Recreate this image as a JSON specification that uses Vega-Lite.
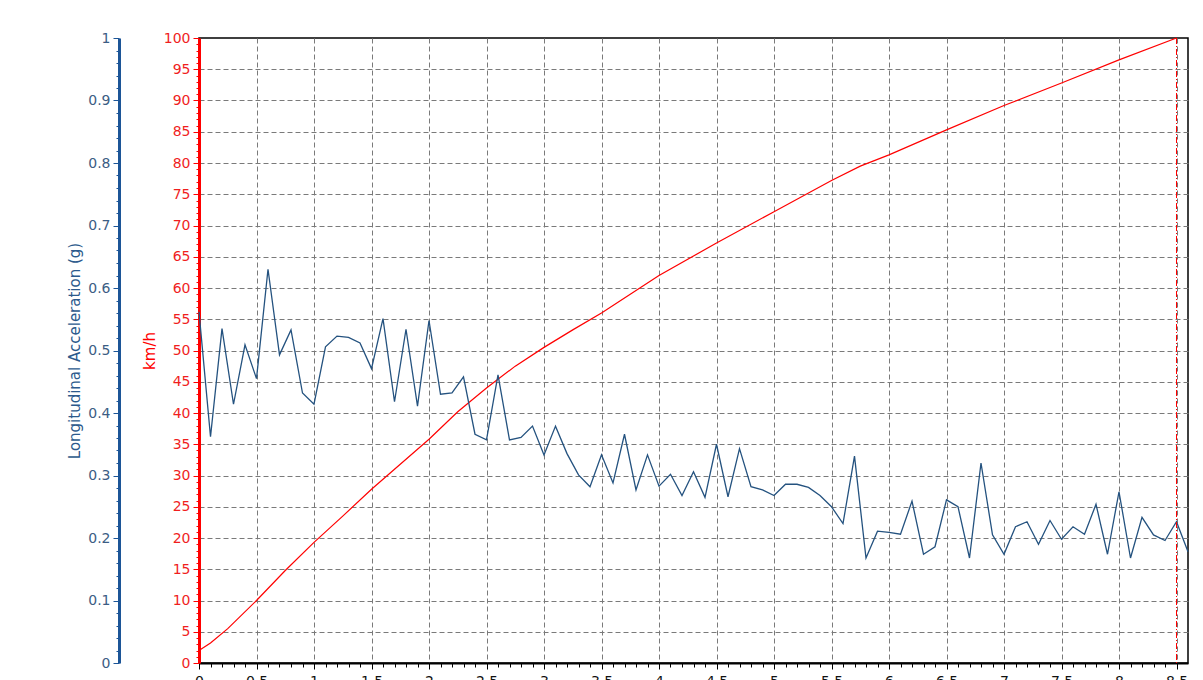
{
  "$schema": "https://vega.github.io/schema/vega-lite/v6.json",
  "width": 989,
  "height": 625,
  "autosize": {"type": "none"},
  "padding": {"left": 199, "top": 38, "right": 15, "bottom": 17},
  "background": "white",
  "config": {
    "font": "DejaVu Sans",
    "view": {"stroke": "#000000", "strokeWidth": 1.5}
  },
  "datasets": {
    "accel": [
      {"t": 0.0, "a": 0.562}, {"t": 0.1, "a": 0.362}, {"t": 0.2, "a": 0.535}, {"t": 0.3, "a": 0.414}, {"t": 0.4, "a": 0.509},
      {"t": 0.5, "a": 0.455}, {"t": 0.6, "a": 0.63}, {"t": 0.7, "a": 0.493}, {"t": 0.8, "a": 0.533}, {"t": 0.9, "a": 0.432},
      {"t": 1.0, "a": 0.414}, {"t": 1.1, "a": 0.506}, {"t": 1.2, "a": 0.523}, {"t": 1.3, "a": 0.521}, {"t": 1.4, "a": 0.512},
      {"t": 1.5, "a": 0.471}, {"t": 1.6, "a": 0.551}, {"t": 1.7, "a": 0.418}, {"t": 1.8, "a": 0.534}, {"t": 1.9, "a": 0.411},
      {"t": 2.0, "a": 0.548}, {"t": 2.1, "a": 0.43}, {"t": 2.2, "a": 0.432}, {"t": 2.3, "a": 0.458}, {"t": 2.4, "a": 0.366},
      {"t": 2.5, "a": 0.357}, {"t": 2.6, "a": 0.461}, {"t": 2.7, "a": 0.357}, {"t": 2.8, "a": 0.361}, {"t": 2.9, "a": 0.379},
      {"t": 3.0, "a": 0.333}, {"t": 3.1, "a": 0.379}, {"t": 3.2, "a": 0.335}, {"t": 3.3, "a": 0.301}, {"t": 3.4, "a": 0.282},
      {"t": 3.5, "a": 0.333}, {"t": 3.6, "a": 0.288}, {"t": 3.7, "a": 0.366}, {"t": 3.8, "a": 0.277}, {"t": 3.9, "a": 0.333},
      {"t": 4.0, "a": 0.283}, {"t": 4.1, "a": 0.302}, {"t": 4.2, "a": 0.268}, {"t": 4.3, "a": 0.306}, {"t": 4.4, "a": 0.265},
      {"t": 4.5, "a": 0.35}, {"t": 4.6, "a": 0.266}, {"t": 4.7, "a": 0.343}, {"t": 4.8, "a": 0.282}, {"t": 4.9, "a": 0.277},
      {"t": 5.0, "a": 0.268}, {"t": 5.1, "a": 0.286}, {"t": 5.2, "a": 0.286}, {"t": 5.3, "a": 0.281}, {"t": 5.4, "a": 0.268},
      {"t": 5.5, "a": 0.25}, {"t": 5.6, "a": 0.223}, {"t": 5.7, "a": 0.331}, {"t": 5.8, "a": 0.168}, {"t": 5.9, "a": 0.211},
      {"t": 6.0, "a": 0.209}, {"t": 6.1, "a": 0.206}, {"t": 6.2, "a": 0.259}, {"t": 6.3, "a": 0.174}, {"t": 6.4, "a": 0.186},
      {"t": 6.5, "a": 0.261}, {"t": 6.6, "a": 0.25}, {"t": 6.7, "a": 0.168}, {"t": 6.8, "a": 0.32}, {"t": 6.9, "a": 0.205},
      {"t": 7.0, "a": 0.174}, {"t": 7.1, "a": 0.218}, {"t": 7.2, "a": 0.226}, {"t": 7.3, "a": 0.19}, {"t": 7.4, "a": 0.228},
      {"t": 7.5, "a": 0.198}, {"t": 7.6, "a": 0.218}, {"t": 7.7, "a": 0.206}, {"t": 7.8, "a": 0.254}, {"t": 7.9, "a": 0.174},
      {"t": 8.0, "a": 0.274}, {"t": 8.1, "a": 0.168}, {"t": 8.2, "a": 0.233}, {"t": 8.3, "a": 0.205}, {"t": 8.4, "a": 0.196},
      {"t": 8.5, "a": 0.226}, {"t": 8.6, "a": 0.178}
    ],
    "speed": [
      {"t": 0.0, "v": 2.0}, {"t": 0.1, "v": 3.2}, {"t": 0.25, "v": 5.5}, {"t": 0.5, "v": 10.0}, {"t": 0.75, "v": 14.8},
      {"t": 1.0, "v": 19.3}, {"t": 1.25, "v": 23.5}, {"t": 1.5, "v": 27.8}, {"t": 1.75, "v": 31.8}, {"t": 2.0, "v": 35.8},
      {"t": 2.25, "v": 40.2}, {"t": 2.5, "v": 44.0}, {"t": 2.75, "v": 47.5}, {"t": 3.0, "v": 50.5}, {"t": 3.25, "v": 53.3},
      {"t": 3.5, "v": 56.0}, {"t": 3.75, "v": 59.0}, {"t": 4.0, "v": 62.0}, {"t": 4.5, "v": 67.2}, {"t": 5.0, "v": 72.2},
      {"t": 5.5, "v": 77.2}, {"t": 5.75, "v": 79.5}, {"t": 6.0, "v": 81.3}, {"t": 6.5, "v": 85.3}, {"t": 7.0, "v": 89.2},
      {"t": 7.5, "v": 92.8}, {"t": 8.0, "v": 96.5}, {"t": 8.5, "v": 100.0}
    ],
    "marker": [{"t": 8.5}]
  },
  "encoding": {
    "x": {
      "field": "t",
      "type": "quantitative",
      "scale": {"domain": [0, 8.6], "nice": false, "zero": false},
      "axis": {
        "title": null,
        "values": [0,0.1,0.2,0.3,0.4,0.5,0.6,0.7,0.8,0.9,1,1.1,1.2,1.3,1.4,1.5,1.6,1.7,1.8,1.9,2,2.1,2.2,2.3,2.4,2.5,2.6,2.7,2.8,2.9,3,3.1,3.2,3.3,3.4,3.5,3.6,3.7,3.8,3.9,4,4.1,4.2,4.3,4.4,4.5,4.6,4.7,4.8,4.9,5,5.1,5.2,5.3,5.4,5.5,5.6,5.7,5.8,5.9,6,6.1,6.2,6.3,6.4,6.5,6.6,6.7,6.8,6.9,7,7.1,7.2,7.3,7.4,7.5,7.6,7.7,7.8,7.9,8,8.1,8.2,8.3,8.4,8.5],
        "labelExpr": "abs(datum.value*2 - round(datum.value*2)) < 0.001 ? format(datum.value, '~g') : ''",
        "labelOverlap": false,
        "labelFlush": false,
        "labelFont": "DejaVu Sans",
        "labelFontSize": 14,
        "labelColor": "#111111",
        "labelPadding": 5,
        "domainColor": "#000000",
        "domainWidth": 2,
        "tickColor": "#000000",
        "tickSize": {"condition": {"test": "abs(datum.value*2 - round(datum.value*2)) < 0.001", "value": 6}, "value": 4},
        "grid": true,
        "gridColor": "#7a7a7a",
        "gridDash": [5, 3],
        "gridWidth": 1,
        "gridOpacity": {"condition": {"test": "abs(datum.value*2 - round(datum.value*2)) < 0.001 && datum.value > 0", "value": 1}, "value": 0}
      }
    }
  },
  "layer": [
    {
      "data": {"name": "speed"},
      "mark": {"type": "line", "color": "#ff0000", "strokeWidth": 1.2},
      "encoding": {
        "y": {
          "field": "v",
          "type": "quantitative",
          "scale": {"domain": [0, 100], "nice": false, "zero": false},
          "axis": {
            "orient": "left",
            "offset": 0,
            "title": "km/h",
            "titleColor": "#ff0000",
            "titleFont": "DejaVu Sans",
            "titleFontSize": 15,
            "titleFontWeight": "normal",
            "titlePadding": 6,
            "values": [0,1,2,3,4,5,6,7,8,9,10,11,12,13,14,15,16,17,18,19,20,21,22,23,24,25,26,27,28,29,30,31,32,33,34,35,36,37,38,39,40,41,42,43,44,45,46,47,48,49,50,51,52,53,54,55,56,57,58,59,60,61,62,63,64,65,66,67,68,69,70,71,72,73,74,75,76,77,78,79,80,81,82,83,84,85,86,87,88,89,90,91,92,93,94,95,96,97,98,99,100],
            "labelExpr": "datum.value % 5 == 0 ? format(datum.value, 'd') : ''",
            "labelOverlap": false,
            "labelFont": "DejaVu Sans",
            "labelFontSize": 14,
            "labelColor": "#f01e1e",
            "labelPadding": 3,
            "domainColor": "#ff0000",
            "domainWidth": 3,
            "tickColor": "#ff0000",
            "tickSize": {"condition": {"test": "datum.value % 5 == 0", "value": 6}, "value": 3},
            "grid": true,
            "gridColor": "#7a7a7a",
            "gridDash": [5, 3],
            "gridWidth": 1,
            "gridOpacity": {"condition": {"test": "datum.value % 5 == 0 && datum.value > 0 && datum.value < 100", "value": 1}, "value": 0}
          }
        }
      }
    },
    {
      "data": {"name": "accel"},
      "mark": {"type": "line", "color": "#24527f", "strokeWidth": 1.3},
      "encoding": {
        "y": {
          "field": "a",
          "type": "quantitative",
          "scale": {"domain": [0, 1], "nice": false, "zero": false},
          "axis": {
            "orient": "left",
            "offset": 80,
            "title": "Longitudinal Acceleration (g)",
            "titleColor": "#2c5a8c",
            "titleFont": "DejaVu Sans",
            "titleFontSize": 15,
            "titleFontWeight": "normal",
            "titlePadding": 5,
            "values": [0,0.02,0.04,0.06,0.08,0.1,0.12,0.14,0.16,0.18,0.2,0.22,0.24,0.26,0.28,0.3,0.32,0.34,0.36,0.38,0.4,0.42,0.44,0.46,0.48,0.5,0.52,0.54,0.56,0.58,0.6,0.62,0.64,0.66,0.68,0.7,0.72,0.74,0.76,0.78,0.8,0.82,0.84,0.86,0.88,0.9,0.92,0.94,0.96,0.98,1],
            "labelExpr": "abs(datum.value*10 - round(datum.value*10)) < 0.001 ? format(datum.value, '~g') : ''",
            "labelOverlap": false,
            "labelFont": "DejaVu Sans",
            "labelFontSize": 14,
            "labelColor": "#3c5d84",
            "labelPadding": 3,
            "domainColor": "#1c5597",
            "domainWidth": 3,
            "tickColor": "#1c5597",
            "tickSize": {"condition": {"test": "abs(datum.value*10 - round(datum.value*10)) < 0.001", "value": 6}, "value": 3},
            "grid": false
          }
        }
      }
    },
    {
      "data": {"name": "marker"},
      "mark": {"type": "rule", "color": "#ff0000", "strokeWidth": 1, "strokeDash": [6, 2, 1, 2]},
      "encoding": {}
    }
  ],
  "resolve": {"scale": {"y": "independent"}}
}
